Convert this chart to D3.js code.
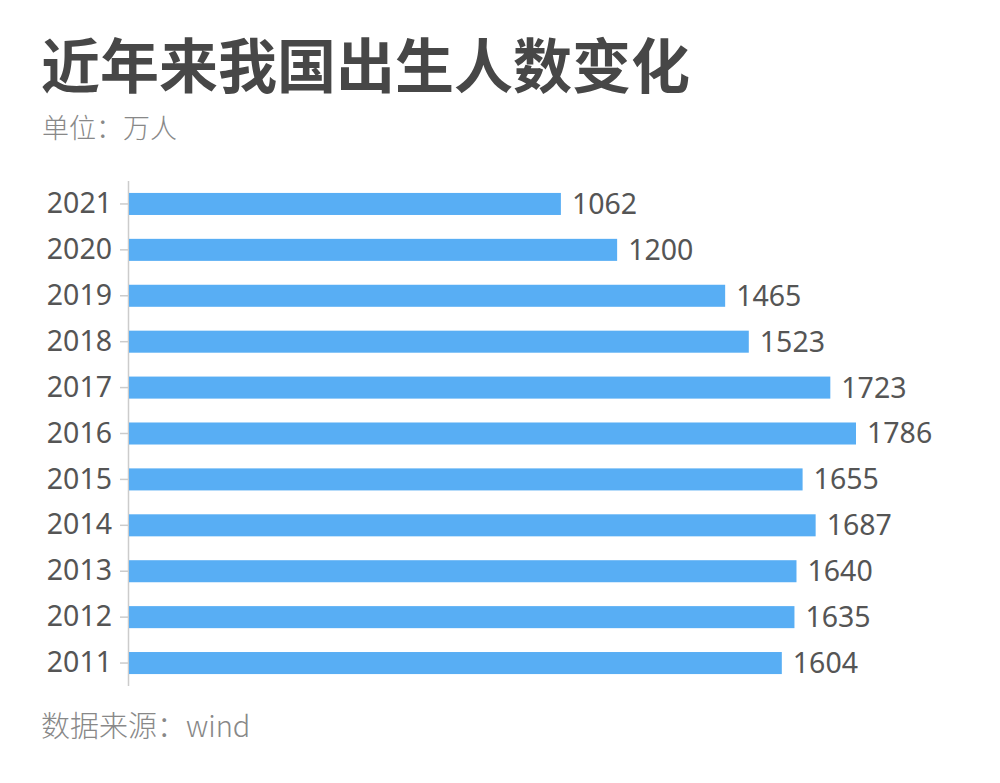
<!DOCTYPE html>
<html>
<head>
<meta charset="utf-8">
<script src="https://cdn.jsdelivr.net/npm/d3@7"></script>
<style>
  html, body { margin: 0; padding: 0; background: #fff; }
  svg { display: block; font-family: "Noto Sans", "Noto Sans CJK SC", sans-serif; }
</style>
</head>
<body>
<svg id="chart" width="1000" height="783"></svg>
<script>
// chart data, top to bottom as in the picture
var years = ["2021", "2020", "2019", "2018", "2017", "2016", "2015", "2014", "2013", "2012", "2011"];
var births = [1062, 1200, 1465, 1523, 1723, 1786, 1655, 1687, 1640, 1635, 1604];

var titleText = "近年来我国出生人数变化";
var unitText = "单位：万人";
var sourceText = "数据来源：wind";

var svg = d3.select("#chart");

var axisX = 128;

// scales
var x = d3.scaleLinear()
  .domain([0, 1786])
  .range([axisX, 856]);

var y = d3.scaleBand()
  .domain(years)
  .range([181, 686])
  .paddingInner(0.52)
  .paddingOuter(0.26);

// title + unit
svg.append("text")
  .attr("x", 41)
  .attr("y", 62)
  .attr("dominant-baseline", "central")
  .style("font-family", "'Noto Sans CJK SC', sans-serif")
  .style("font-size", "59px")
  .style("font-weight", "bold")
  .style("fill", "#474747")
  .text(titleText);

svg.append("text")
  .attr("x", 42)
  .attr("y", 126)
  .attr("dominant-baseline", "central")
  .style("font-family", "'Noto Sans CJK SC', sans-serif")
  .style("font-size", "27px")
  .style("font-weight", 300)
  .style("fill", "#888")
  .text(unitText);

// y axis
var yAxis = d3.axisLeft(y).tickSize(8).tickPadding(8);
var gy = svg.append("g")
  .attr("transform", "translate(" + axisX + ",0)")
  .call(yAxis);

gy.select(".domain")
  .attr("stroke", "#ccc")
  .attr("stroke-width", 1.5)
  .attr("d", "M0.5,181V686");
gy.selectAll(".tick line")
  .attr("stroke", "#ccc")
  .attr("stroke-width", 1.5);
gy.selectAll(".tick text")
  .style("font-family", "'Noto Sans', sans-serif")
  .style("font-size", "28.5px")
  .style("fill", "#555");

// bars
var rows = years.map(function(yr, i) { return { year: yr, value: births[i] }; });

svg.append("g").selectAll("rect")
  .data(rows)
  .enter().append("rect")
  .attr("x", axisX + 1)
  .attr("y", function(d) { return y(d.year); })
  .attr("width", function(d) { return x(d.value) - axisX - 1; })
  .attr("height", y.bandwidth())
  .style("fill", "#58aef4");

// value labels
svg.append("g").selectAll("text")
  .data(rows)
  .enter().append("text")
  .attr("x", function(d) { return x(d.value) + 11; })
  .attr("y", function(d) { return y(d.year) + y.bandwidth() / 2; })
  .attr("dy", "0.35em")
  .style("font-family", "'Noto Sans', sans-serif")
  .style("font-size", "28.5px")
  .style("fill", "#555")
  .text(function(d) { return d.value; });

// source
svg.append("text")
  .attr("x", 41)
  .attr("y", 724)
  .attr("dominant-baseline", "central")
  .style("font-family", "'Noto Sans CJK SC', sans-serif")
  .style("font-size", "29px")
  .style("font-weight", 300)
  .style("fill", "#888")
  .text(sourceText);
</script>
</body>
</html>
